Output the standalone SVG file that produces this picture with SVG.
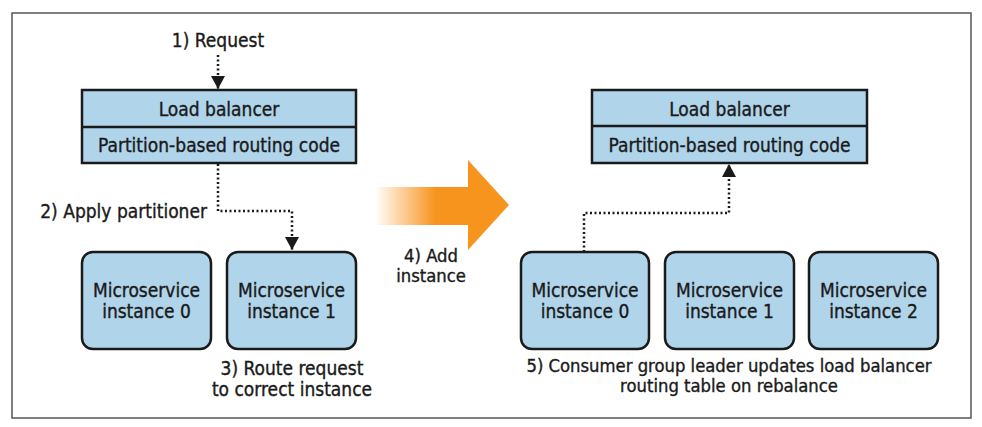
<svg xmlns="http://www.w3.org/2000/svg" width="982" height="427" viewBox="0 0 982 427">
<defs>
<style>
text{font-family:"Liberation Sans Narrow","DejaVu Sans Condensed","Liberation Sans",sans-serif;font-size:19px;fill:#1a1a1a;stroke:#1a1a1a;stroke-width:0.35;text-anchor:middle}
.sm{font-size:18.3px}
.box{fill:#b0d4ea;stroke:#1a1a1a;stroke-width:2.5}
.conn{fill:none;stroke:#1a1a1a;stroke-width:2.5;stroke-dasharray:2 2.5}
</style>
<marker id="ah" markerWidth="14" markerHeight="14" viewBox="0 0 14 14" refX="13" refY="7" orient="auto" markerUnits="userSpaceOnUse">
<path d="M0,0 L13,7 L0,14 Z" fill="#1a1a1a"/>
</marker>
<linearGradient id="og" x1="375" y1="0" x2="510" y2="0" gradientUnits="userSpaceOnUse">
<stop offset="0" stop-color="#f7941d" stop-opacity="0"/>
<stop offset="0.45" stop-color="#f7941d" stop-opacity="1"/>
<stop offset="1" stop-color="#f7941d"/>
</linearGradient>
</defs>
<rect width="982" height="427" fill="#fff"/>
<rect x="12" y="13" width="959" height="405" fill="none" stroke="#555" stroke-width="1.5"/>

<g id="connectors">
<path class="conn" d="M218,55 V89" marker-end="url(#ah)"/>
<path class="conn" d="M218,164 V211 H292 V250" marker-end="url(#ah)"/>
<path class="conn" d="M584,252 V213 H729 V164" marker-end="url(#ah)"/>
</g>

<g id="label-request"><text x="218" y="47">1) Request</text></g>
<g id="label-apply"><text x="207" y="218" style="text-anchor:end">2) Apply partitioner</text></g>

<g id="lb-left">
<rect class="box" x="82" y="90" width="274" height="73"/>
<line x1="82" y1="127" x2="356" y2="127" stroke="#1a1a1a" stroke-width="2.5"/>
<text x="219" y="116">Load balancer</text>
<text x="219" y="152">Partition-based routing code</text>
</g>

<g id="ms-left-0">
<rect class="box" x="82" y="252" width="129" height="97" rx="11"/>
<text x="146.5" y="297">Microservice</text>
<text x="146.5" y="318">instance 0</text>
</g>
<g id="ms-left-1">
<rect class="box" x="227" y="252" width="129" height="97" rx="11"/>
<text x="291.5" y="297">Microservice</text>
<text x="291.5" y="318">instance 1</text>
</g>
<g id="label-route">
<text x="292" y="375">3) Route request</text>
<text x="292" y="396">to correct instance</text>
</g>

<g id="add-arrow">
<path d="M375,187 H468 V160 L509,205 L468,250 V225 H375 Z" fill="url(#og)"/>
<text class="sm" x="431" y="262">4) Add</text>
<text class="sm" x="431" y="282">instance</text>
</g>

<g id="lb-right">
<rect class="box" x="592" y="90" width="275" height="73"/>
<line x1="592" y1="126" x2="867" y2="126" stroke="#1a1a1a" stroke-width="2.5"/>
<text x="729.5" y="116">Load balancer</text>
<text x="729.5" y="152">Partition-based routing code</text>
</g>

<g id="ms-right-0">
<rect class="box" x="521" y="252" width="128" height="97" rx="11"/>
<text x="585" y="297">Microservice</text>
<text x="585" y="318">instance 0</text>
</g>
<g id="ms-right-1">
<rect class="box" x="665" y="252" width="129" height="97" rx="11"/>
<text x="729.5" y="297">Microservice</text>
<text x="729.5" y="318">instance 1</text>
</g>
<g id="ms-right-2">
<rect class="box" x="809" y="252" width="129" height="97" rx="11"/>
<text x="873.5" y="297">Microservice</text>
<text x="873.5" y="318">instance 2</text>
</g>
<g id="label-consumer">
<text class="sm" x="729" y="372">5) Consumer group leader updates load balancer</text>
<text class="sm" x="729" y="392">routing table on rebalance</text>
</g>
</svg>
